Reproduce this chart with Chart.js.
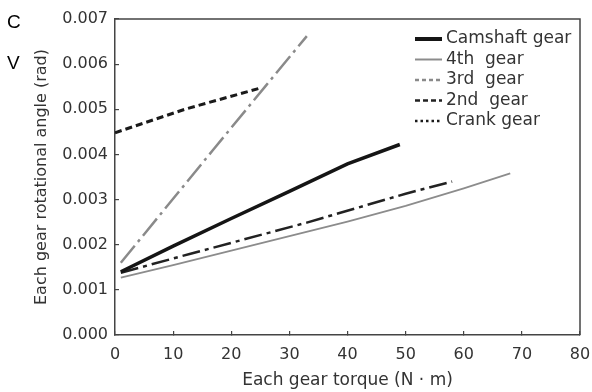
<!DOCTYPE html>
<html>
<head>
<meta charset="utf-8">
<script src="https://cdn.jsdelivr.net/npm/chart.js@4.4.1/dist/chart.umd.min.js"></script>
<style>
  html, body { margin: 0; padding: 0; background: #fff; }
  #wrap { width: 592px; height: 392px; position: relative; }
</style>
</head>
<body>
<div id="wrap"><canvas id="gearChart"></canvas></div>
<script>
// Values: torque (N·m) vs rotational angle (rad)
const seriesNames = ['Camshaft gear', '4th  gear', '3rd  gear', '2nd  gear', 'Crank gear'];

const camshaftTorque = [1, 10, 20, 30, 40, 49];
const camshaftAngle = [0.00140, 0.00197, 0.00258, 0.00318, 0.00379, 0.00422];

const fourthTorque = [1, 10, 20, 30, 40, 50, 60, 68];
const fourthAngle = [0.00127, 0.00155, 0.00187, 0.00219, 0.00251, 0.00286, 0.00325, 0.00358];

const thirdTorque = [1, 17, 26, 33];
const thirdAngle = [0.00160, 0.00412, 0.00553, 0.00662];

const secondTorque = [1, 13, 33, 50, 58];
const secondAngle = [0.00138, 0.00180, 0.00249, 0.00313, 0.00340];

const crankTorque = [0, 12, 25];
const crankAngle = [0.00448, 0.00500, 0.00547];

const xTicks = [0, 10, 20, 30, 40, 50, 60, 70, 80];
const yTicks = [0, 0.001, 0.002, 0.003, 0.004, 0.005, 0.006, 0.007];

const FONT = '"DejaVu Sans", sans-serif';
const TEXT = '#333';
const FRAME = '#444';

function toPoints(xs, ys) {
  return xs.map((x, i) => ({ x: x, y: ys[i] }));
}

// line style for the plot, plus the sample drawn in the legend
const styles = [
  { color: '#151515', width: 3.5, dash: [], legendDash: [], legendWidth: 4 },
  { color: '#8c8c8c', width: 1.8, dash: [], legendDash: [], legendWidth: 2 },
  { color: '#8a8a8a', width: 2.5, dash: [22, 5, 3, 5], legendDash: [4, 3], legendWidth: 2.5 },
  { color: '#222', width: 2.5, dash: [18, 5, 4, 5], legendDash: [5, 3], legendWidth: 2.5 },
  { color: '#1a1a1a', width: 3, dash: [7, 4], legendDash: [2.5, 3], legendWidth: 2.5 }
];

const pointSets = [
  toPoints(camshaftTorque, camshaftAngle),
  toPoints(fourthTorque, fourthAngle),
  toPoints(thirdTorque, thirdAngle),
  toPoints(secondTorque, secondAngle),
  toPoints(crankTorque, crankAngle)
];

const datasets = seriesNames.map((name, i) => ({
  label: name,
  data: pointSets[i],
  borderColor: styles[i].color,
  borderWidth: styles[i].width,
  borderDash: styles[i].dash,
  pointRadius: 0,
  fill: false,
  tension: 0
}));

// closes the frame on top and right
const framePlugin = {
  id: 'frame',
  afterDraw(chart) {
    const { ctx, chartArea: a } = chart;
    ctx.save();
    ctx.strokeStyle = FRAME;
    ctx.lineWidth = 1.5;
    ctx.beginPath();
    ctx.moveTo(a.left, a.top);
    ctx.lineTo(a.right, a.top);
    ctx.lineTo(a.right, a.bottom);
    ctx.stroke();
    ctx.restore();
  }
};

// legend in the upper right corner of the plot
const legendPlugin = {
  id: 'innerLegend',
  afterDraw(chart) {
    const { ctx, chartArea: a } = chart;
    const x0 = a.right - 165;
    ctx.save();
    ctx.font = '17px ' + FONT;
    ctx.textBaseline = 'middle';
    ctx.fillStyle = TEXT;
    seriesNames.forEach((name, i) => {
      const y = a.top + 20 + i * 20.5;
      const s = styles[i];
      ctx.strokeStyle = s.color;
      ctx.lineWidth = s.legendWidth;
      ctx.setLineDash(s.legendDash);
      ctx.beginPath();
      ctx.moveTo(x0, y);
      ctx.lineTo(x0 + 27, y);
      ctx.stroke();
      ctx.fillText(name, x0 + 31, y);
    });
    ctx.restore();
  }
};

// cut-off letters at the left edge of the original figure
const edgeTextPlugin = {
  id: 'edgeText',
  afterDraw(chart) {
    const ctx = chart.ctx;
    ctx.save();
    ctx.font = '19px "Liberation Sans", sans-serif';
    ctx.fillStyle = '#000';
    ctx.textBaseline = 'alphabetic';
    ctx.fillText('C', 7, 28);
    ctx.fillText('V', 7, 69);
    ctx.restore();
  }
};

new Chart(document.getElementById('gearChart'), {
  type: 'line',
  data: { datasets: datasets },
  options: {
    responsive: true,
    maintainAspectRatio: false,
    animation: false,
    layout: { padding: { top: 19, right: 12, left: 0, bottom: 0 } },
    plugins: {
      legend: { display: false },
      tooltip: { enabled: false }
    },
    scales: {
      x: {
        type: 'linear',
        min: 0,
        max: 80,
        afterBuildTicks: (scale) => { scale.ticks = xTicks.map(v => ({ value: v })); },
        afterFit: (scale) => {
          scale.height = 57;
          scale.paddingLeft = 0;
          scale.paddingRight = 0;
        },
        border: { display: true, color: FRAME, width: 1.5 },
        grid: { drawOnChartArea: false, drawTicks: true, tickLength: -4, color: FRAME, lineWidth: 1.2 },
        ticks: { color: TEXT, font: { family: FONT, size: 16 }, padding: 14, maxRotation: 0 },
        title: {
          display: true,
          text: 'Each gear torque (N \u00b7 m)',
          color: TEXT,
          font: { family: FONT, size: 17 },
          padding: { top: 0, bottom: 1 }
        }
      },
      y: {
        type: 'linear',
        min: 0,
        max: 0.007,
        afterBuildTicks: (scale) => { scale.ticks = yTicks.map(v => ({ value: v })); },
        afterFit: (scale) => {
          scale.width = 115;
          scale.paddingTop = 0;
          scale.paddingBottom = 0;
        },
        border: { display: true, color: FRAME, width: 1.5 },
        grid: { drawOnChartArea: false, drawTicks: true, tickLength: -4, color: FRAME, lineWidth: 1.2 },
        ticks: {
          color: TEXT,
          font: { family: FONT, size: 16 },
          padding: 11,
          callback: (v) => Number(v).toFixed(3)
        },
        title: {
          display: true,
          text: 'Each gear rotational angle (rad)',
          color: TEXT,
          font: { family: FONT, size: 16 },
          padding: { top: 32, bottom: 0 }
        }
      }
    }
  },
  plugins: [framePlugin, legendPlugin, edgeTextPlugin]
});
</script>
</body>
</html>
